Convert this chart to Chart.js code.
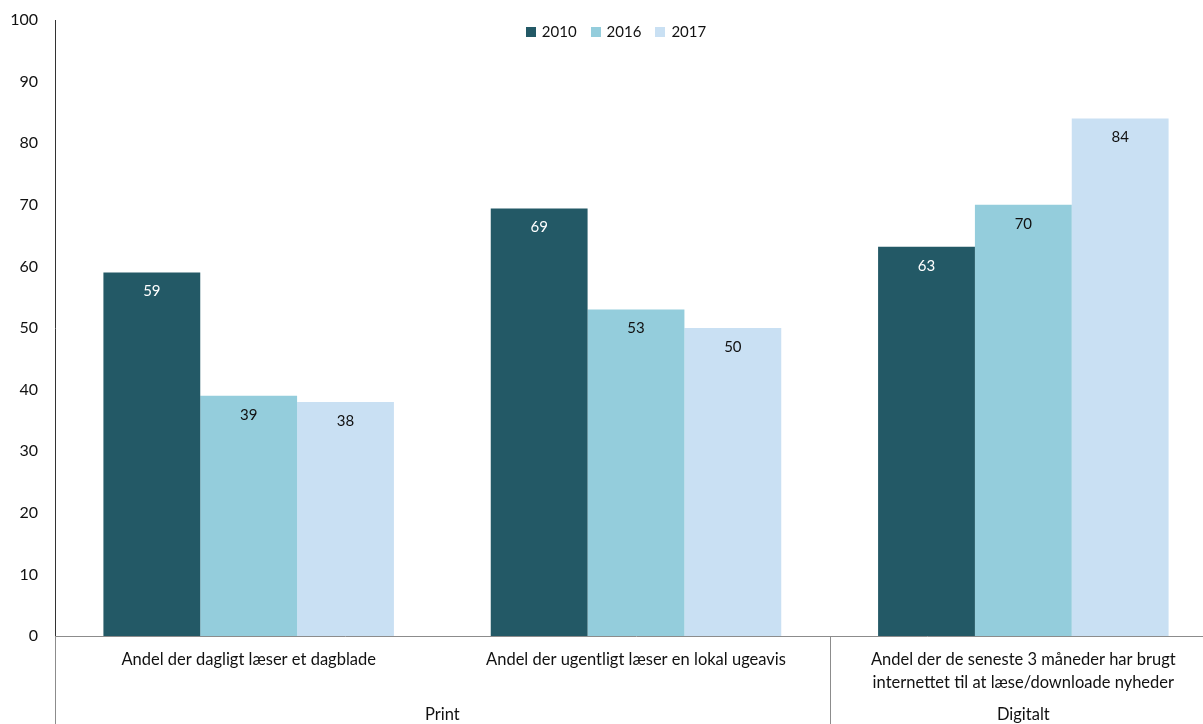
<!DOCTYPE html>
<html>
<head>
<meta charset="utf-8">
<script src="https://cdn.jsdelivr.net/npm/chart.js@4/dist/chart.umd.min.js"></script>
<style>
  html, body { margin: 0; padding: 0; background: #fff; overflow: hidden; }
  #wrap { position: relative; width: 1217px; height: 724px; }
</style>
</head>
<body>
<div id="wrap"><canvas id="c"></canvas></div>
<script>
const categories = [
  "Andel der dagligt læser et dagblade",
  "Andel der ugentligt læser en lokal ugeavis",
  ["Andel der de seneste 3 måneder har brugt", "internettet til at læse/downloade nyheder"]
];
const groupLabels = ["Print", "Digitalt"];
const groupSpans = [2, 1];
const seriesNames = ["2010", "2016", "2017"];
const values2010 = [59, 69.4, 63.2];
const values2016 = [39, 53, 70];
const values2017 = [38, 50, 84];
const seriesColors = ["#235966", "#94cddc", "#c9e0f3"];
const labelColors = ["#ffffff", "#111111", "#111111"];

const FONT = "Lato, 'Open Sans', sans-serif";

const valueLabels = {
  id: 'valueLabels',
  afterDatasetsDraw(chart) {
    const ctx = chart.ctx;
    ctx.save();
    ctx.font = "15px " + FONT;
    ctx.textAlign = 'center';
    ctx.textBaseline = 'middle';
    chart.data.datasets.forEach((ds, i) => {
      chart.getDatasetMeta(i).data.forEach((bar, j) => {
        ctx.fillStyle = labelColors[i];
        ctx.fillText(String(Math.round(ds.data[j])), bar.x, bar.y + 19);
      });
    });
    ctx.restore();
  }
};

const topLegend = {
  id: 'topLegend',
  afterDraw(chart) {
    const ctx = chart.ctx;
    ctx.save();
    ctx.font = "15px " + FONT;
    ctx.textBaseline = 'middle';
    ctx.textAlign = 'left';
    const box = 10, gapBoxText = 6, gapItems = 14;
    const items = chart.data.datasets.map(ds => ({ label: ds.label, color: ds.backgroundColor, w: ctx.measureText(ds.label).width }));
    let total = 0;
    items.forEach((it, k) => { total += box + gapBoxText + it.w + (k < items.length - 1 ? gapItems : 0); });
    let x = 616 - total / 2;
    const y = 32;
    items.forEach(it => {
      ctx.fillStyle = it.color;
      ctx.fillRect(Math.round(x), y - box / 2, box, box);
      x += box + gapBoxText;
      ctx.fillStyle = '#111111';
      ctx.fillText(it.label, x, y);
      x += it.w + gapItems;
    });
    ctx.restore();
  }
};

const groupAxis = {
  id: 'groupAxis',
  afterDraw(chart) {
    const ctx = chart.ctx;
    const area = chart.chartArea;
    const n = categories.length;
    const w = (area.right - area.left) / n;
    ctx.save();
    ctx.strokeStyle = '#8c8c8c';
    ctx.lineWidth = 1;
    let idx = 0;
    const bounds = [area.left];
    groupSpans.forEach(s => { idx += s; bounds.push(area.left + idx * w); });
    bounds.forEach(bx => {
      const x = Math.round(bx) + 0.5;
      ctx.beginPath();
      ctx.moveTo(x, area.bottom);
      ctx.lineTo(x, chart.height);
      ctx.stroke();
    });
    ctx.font = "16.5px " + FONT;
    ctx.fillStyle = '#111111';
    ctx.textAlign = 'center';
    ctx.textBaseline = 'middle';
    groupLabels.forEach((g, k) => {
      const cx = (bounds[k] + bounds[k + 1]) / 2;
      ctx.fillText(g, cx, 715);
    });
    ctx.restore();
  }
};

new Chart(document.getElementById('c'), {
  type: 'bar',
  data: {
    labels: categories,
    datasets: [
      { label: seriesNames[0], data: values2010, backgroundColor: seriesColors[0] },
      { label: seriesNames[1], data: values2016, backgroundColor: seriesColors[1] },
      { label: seriesNames[2], data: values2017, backgroundColor: seriesColors[2] }
    ]
  },
  options: {
    responsive: true,
    maintainAspectRatio: false,
    animation: false,
    devicePixelRatio: 1,
    layout: { padding: { top: 20, left: 0, right: 0, bottom: 0 } },
    datasets: { bar: { categoryPercentage: 0.75, barPercentage: 1.0 } },
    plugins: {
      tooltip: { enabled: false },
      legend: { display: false }
    },
    scales: {
      x: {
        grid: { display: false, drawTicks: false },
        border: { display: true, color: '#8c8c8c', width: 1 },
        ticks: {
          color: '#111111',
          padding: 12,
          maxRotation: 0,
          autoSkip: false,
          font: { family: FONT, size: 16.5, lineHeight: 1.4 }
        },
        afterFit(scale) { scale.height = 88; }
      },
      y: {
        min: 0, max: 100,
        grid: { display: false, drawTicks: false },
        border: { display: true, color: '#333333', width: 1 },
        ticks: {
          stepSize: 10,
          color: '#111111',
          padding: 17,
          font: { family: FONT, size: 16 }
        },
        afterFit(scale) { scale.width = 55; scale.paddingTop = 10; scale.paddingBottom = 10; }
      }
    }
  },
  plugins: [valueLabels, topLegend, groupAxis]
});
</script>
</body>
</html>
